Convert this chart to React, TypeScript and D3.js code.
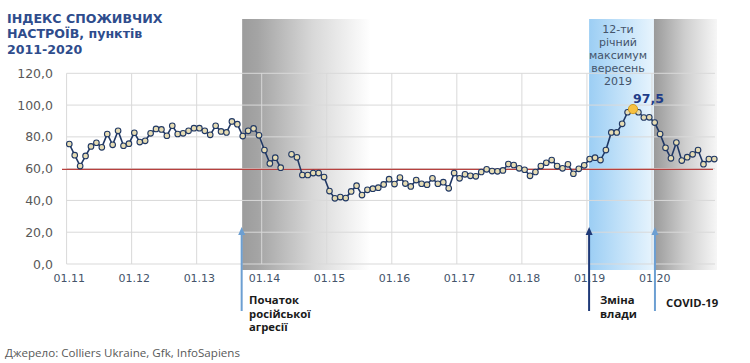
import React from 'react';
import * as d3 from 'd3';

// ---- data ----
const tickLabels = ['01.11', '01.12', '01.13', '01.14', '01.15', '01.16', '01.17', '01.18', '01.19', '01.20'];
const yTicks = [0, 20, 40, 60, 80, 100, 120];
const v2011 = [75.5, 68.5, 61.6, 68, 74, 76.3, 73.4, 81.8, 75, 83.8, 74.4, 75.7];
const v2012 = [82.6, 76.7, 77.5, 82.2, 85, 84.7, 80.7, 87, 81.8, 82.2, 83.8, 85.5];
const v2013 = [85.5, 83.8, 81.3, 87, 83.4, 82.8, 89.7, 88, 80.5, 83.8, 85.3, 81];
const v2014 = [71.7, 63.3, 66.9, 60.6, null, 69, 67.1, 56, 56, 57.2, 57.2, 54.7];
const v2015 = [45.9, 41.3, 42.1, 41.5, 45.7, 49.3, 43.4, 46.7, 47.4, 48, 50.1, 53.4];
const v2016 = [50.3, 54.4, 50.6, 48.8, 52.8, 50.5, 49.9, 53.9, 50.5, 51.5, 47.6, 57.2];
const v2017 = [53.9, 56.4, 55.5, 55.2, 57.9, 59.6, 58.5, 58.3, 58.9, 62.9, 62.3, 60.2];
const v2018 = [59.3, 55.5, 57.9, 61.6, 63.7, 65.4, 61.6, 60.2, 62.7, 56.8, 59.9, 62.1];
const v2019 = [66, 66.9, 65.4, 71.7, 82.8, 82.8, 88.2, 95.5, 97.5, 95.5, 92.2, 92.3];
const v2020 = [89, 81.8, 73.1, 66.5, 76.4, 65.1, 67.2, 69, 71.7, 62.8, 66, 66];
const threshold = 60;
const peakMonth = 104;
const peakLabel = '97,5';
const titleLines = ['ІНДЕКС СПОЖИВЧИХ', 'НАСТРОЇВ, пунктів', '2011-2020'];
const peakNote = ['12-ти', 'річний', 'максимум', 'вересень', '2019'];
const aggressionNote = ['Початок', 'російської', 'агресії'];
const powerNote = ['Зміна', 'влади'];
const covidNote = ['COVID-19'];
const aggressionMonth = 31.8;
const powerMonth = 95.9;
const covidMonth = 108.05;
const source = 'Джерело: Colliers Ukraine, Gfk, InfoSapiens';

const values: (number | null)[] = [
  ...v2011, ...v2012, ...v2013, ...v2014, ...v2015,
  ...v2016, ...v2017, ...v2018, ...v2019, ...v2020,
];

export default function App() {
  const x = d3.scaleLinear().domain([0, 119]).range([69.3, 714.3]);
  const y = d3.scaleLinear().domain([0, 120]).range([264, 73.3]);
  const gridLeft = x(-0.5);
  const gridRight = 715;
  const line = d3
    .line<number | null>()
    .defined((d) => d !== null)
    .x((_, i) => x(i))
    .y((d) => y(d as number));

  const top = 19;
  const bottom = 270;
  const axisFont = 'DejaVu Sans, Verdana, sans-serif';
  const uiFont = '"Open Sans", "Noto Sans", sans-serif';

  const arrow = (m: number, color: string) => {
    const ax = x(m);
    const tip = 227;
    const end = 311;
    return (
      <g key={m}>
        <line x1={ax} x2={ax} y1={tip + 6} y2={end} stroke={color} strokeWidth={2} />
        <path d={`M${ax},${tip} L${ax - 3.5},${tip + 8} L${ax + 3.5},${tip + 8} Z`} fill={color} />
      </g>
    );
  };

  return (
    <div style={{ position: 'absolute', left: 0, top: 0 }}>
      <svg width={750} height={363} style={{ display: 'block', background: '#fff' }}>
        <defs>
          <linearGradient id="grey1" x1="0" x2="1" y1="0" y2="0">
            <stop offset="0" stopColor="#9c9c9c" />
            <stop offset="0.12" stopColor="#a4a4a4" />
            <stop offset="0.55" stopColor="#d8d8d8" />
            <stop offset="1" stopColor="#ffffff" />
          </linearGradient>
          <linearGradient id="grey2" x1="0" x2="1" y1="0" y2="0">
            <stop offset="0" stopColor="#9a9a9a" />
            <stop offset="0.5" stopColor="#cfcfcf" />
            <stop offset="1" stopColor="#f6f6f6" />
          </linearGradient>
          <linearGradient id="blue" x1="0" x2="1" y1="0" y2="0">
            <stop offset="0" stopColor="#9ccef4" />
            <stop offset="0.5" stopColor="#c3e2f9" />
            <stop offset="1" stopColor="#e9f5fd" />
          </linearGradient>
        </defs>

        {/* title */}
        <g fontFamily={axisFont} fontWeight={700} fontSize={12.6} fill="#2e4c8c">
          {titleLines.map((t, k) => (
            <text key={'t' + k} x={7} y={23 + k * 15.3}>{t}</text>
          ))}
        </g>

        {/* shaded periods */}
        <rect x={x(aggressionMonth) + 0.5} y={top} width={x(55.5) - x(aggressionMonth)} height={bottom - top} fill="url(#grey1)" />
        <rect x={x(powerMonth)} y={top} width={x(covidMonth) - x(powerMonth)} height={bottom - top} fill="url(#blue)" />
        <rect x={x(covidMonth) - 1} y={top} width={gridRight + 3 - x(covidMonth)} height={bottom - top} fill="url(#grey2)" />

        {/* grid */}
        {yTicks.map((t) => (
          <line key={'h' + t} x1={gridLeft} x2={gridRight} y1={y(t)} y2={y(t)} stroke="#d9d9d9" strokeWidth={1} />
        ))}
        {tickLabels.map((_, k) => (
          <line key={'v' + k} x1={x(k * 12 - 0.5)} x2={x(k * 12 - 0.5)} y1={y(120)} y2={y(0)} stroke="#d9d9d9" strokeWidth={1} />
        ))}

        {/* y labels */}
        <g fontFamily={axisFont} fontSize={12.5} fill="#595959" textAnchor="end">
          {yTicks.map((t) => (
            <text key={'yl' + t} x={53} y={y(t)} dominantBaseline="central">
              {d3.format('.1f')(t).replace('.', ',')}
            </text>
          ))}
        </g>

        {/* x labels */}
        <g fontFamily={axisFont} fontSize={11} fill="#44546a" textAnchor="middle">
          {tickLabels.map((l, k) => (
            <text key={'xl' + k} x={x(k * 12)} y={282}>{l}</text>
          ))}
        </g>

        {/* threshold */}
        <line x1={62} x2={713} y1={y(threshold) + 0.8} y2={y(threshold) + 0.8} stroke="#b8413f" strokeWidth={1.2} />

        {/* series */}
        <path d={line(values) || ''} fill="none" stroke="#203864" strokeWidth={1.6} />
        {values.map((v, i) =>
          v === null || i === peakMonth ? null : (
            <circle key={'p' + i} cx={x(i)} cy={y(v)} r={2.8} fill="#e6dcb4" stroke="#203864" strokeWidth={1.1} />
          )
        )}
        <circle cx={x(peakMonth)} cy={y(values[peakMonth] as number)} r={4.6} fill="#f6c142" stroke="#d29d22" strokeWidth={1} />
        <text x={x(peakMonth)} y={103} fontFamily={axisFont} fontWeight={700} fontSize={12.5} fill="#1f3c88">{peakLabel}</text>

        {/* peak note */}
        <g fontFamily={axisFont} fontSize={11} fill="#44546a" textAnchor="middle">
          {peakNote.map((t, k) => (
            <text key={'pn' + k} x={618} y={33 + k * 12.9}>{t}</text>
          ))}
        </g>

        {/* arrows */}
        {arrow(aggressionMonth, '#6c9fd2')}
        {arrow(powerMonth, '#1f3a78')}
        {arrow(covidMonth, '#6c9fd2')}

        {/* event notes */}
        <g fontFamily={uiFont} fontWeight={700} fontSize={11.3} fill="#1a1a1a">
          {aggressionNote.map((t, k) => (
            <text key={'an' + k} x={249} y={304 + k * 13.7}>{t}</text>
          ))}
          {powerNote.map((t, k) => (
            <text key={'pw' + k} x={600} y={304 + k * 13.7}>{t}</text>
          ))}
          {covidNote.map((t, k) => (
            <text key={'cv' + k} x={666} y={306.5}>{t}</text>
          ))}
        </g>

        {/* source */}
        <text x={5} y={357} fontFamily={uiFont} fontSize={11.6} fill="#595959">{source}</text>
      </svg>
    </div>
  );
}
